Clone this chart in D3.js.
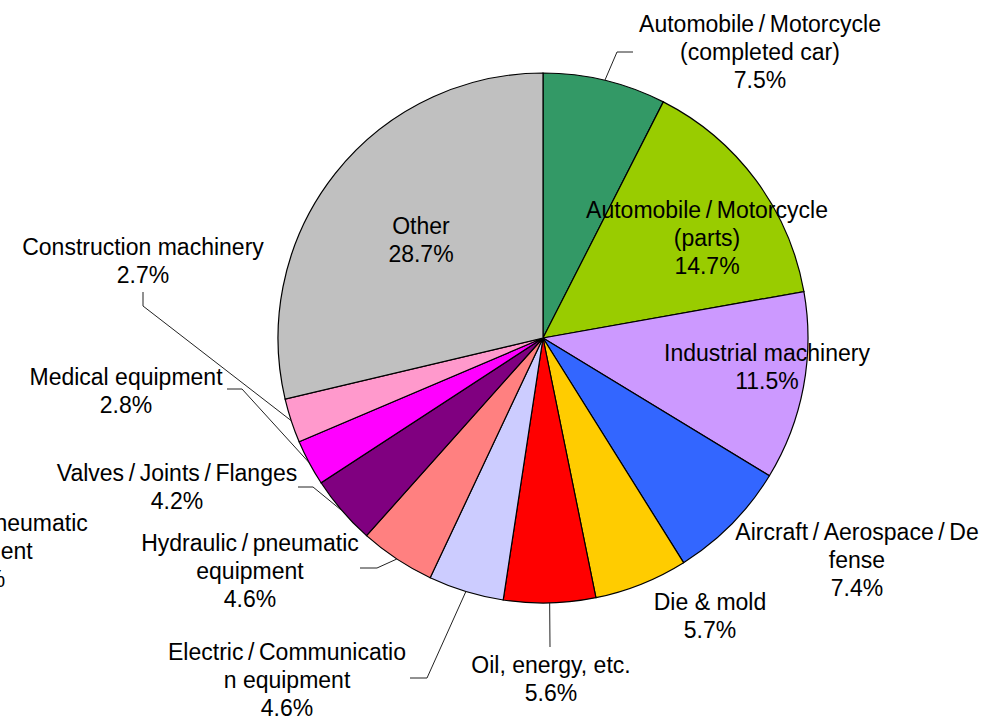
<!DOCTYPE html>
<html>
<head>
<meta charset="utf-8">
<title>Pie by industry</title>
<script src="https://cdn.jsdelivr.net/npm/d3@7/dist/d3.min.js"></script>
<style>
  *{margin:0;padding:0;}
  body{background:#fff;}
  text{font-family:"Liberation Sans",Arial,sans-serif;font-size:23px;fill:#000;}
</style>
</head>
<body>
<div id="chart"></div>
<script>
  // values in %, clockwise from 12 o'clock
  var S = "\u2009/\u2009";
  var categories = [
    ["Automobile" + S + "Motorcycle", "(completed car)"],
    ["Automobile" + S + "Motorcycle", "(parts)"],
    ["Industrial machinery"],
    ["Aircraft" + S + "Aerospace" + S + "De", "fense"],
    ["Die & mold"],
    ["Oil, energy, etc."],
    ["Electric" + S + "Communicatio", "n equipment"],
    ["Hydraulic" + S + "pneumatic", "equipment"],
    ["Valves" + S + "Joints" + S + "Flanges"],
    ["Medical equipment"],
    ["Construction machinery"],
    ["Other"]
  ];
  var values = [7.5, 14.7, 11.5, 7.4, 5.7, 5.6, 4.6, 4.6, 4.2, 2.8, 2.7, 28.7];
  var colors = ["#339966", "#99cc00", "#cc99ff", "#3366ff", "#ffcc00", "#ff0000",
                "#ccccff", "#ff8080", "#800080", "#ff00ff", "#ff99cc", "#c0c0c0"];

  // label layout (first line centre) and leader elbows
  var labelPos = [[760,24],[707,210],[767,353],[857,532],[710,602],[551,665],
                  [287,652],[250,543],[177,473],[126,377],[143,247],[421,226]];
  var elbows = [[[617,52],[633,52]], null, null, null, null, [[550,647]],
                [[427,678],[410,678]], [[377,568],[360,568]], [[313,487],[298,487]],
                [[242,389],[227,389]], [[143,306],[143,292]], null];

  var W = 983, H = 717, cx = 543, cy = 338, r = 265, lh = 28;

  var svg = d3.select("#chart").append("svg").attr("width", W).attr("height", H);

  var pie = d3.pie().sort(null).value(function(d){ return d; });
  var arcs = pie(values);
  var arc = d3.arc().innerRadius(0).outerRadius(r);
  var rim = d3.arc().innerRadius(r).outerRadius(r);

  var g = svg.append("g").attr("transform", "translate(" + cx + "," + cy + ")");
  g.selectAll("path.slice").data(arcs).enter().append("path")
    .attr("class", "slice")
    .attr("d", arc)
    .attr("fill", function(d, i){ return colors[i]; })
    .attr("stroke", "#000")
    .attr("stroke-width", 1.2);

  // leader lines
  arcs.forEach(function(d, i){
    if(!elbows[i]) return;
    var c = rim.centroid(d);
    var pts = [[c[0] + cx, c[1] + cy]].concat(elbows[i]);
    svg.append("path")
      .attr("d", d3.line()(pts))
      .attr("fill", "none")
      .attr("stroke", "#222")
      .attr("stroke-width", 1);
  });

  function drawLabel(lines, x, y){
    var t = svg.append("text").attr("text-anchor", "middle");
    lines.forEach(function(s, k){
      t.append("tspan").attr("x", x).attr("y", y + k * lh).attr("dy", "0.35em").text(s);
    });
  }

  categories.forEach(function(lines, i){
    drawLabel(lines.concat([values[i].toFixed(1) + "%"]), labelPos[i][0], labelPos[i][1]);
  });

  // stray duplicate label clipped at the left edge
  drawLabel(categories[7].concat([values[7].toFixed(1) + "%"]), -21, 523);
</script>
</body>
</html>
